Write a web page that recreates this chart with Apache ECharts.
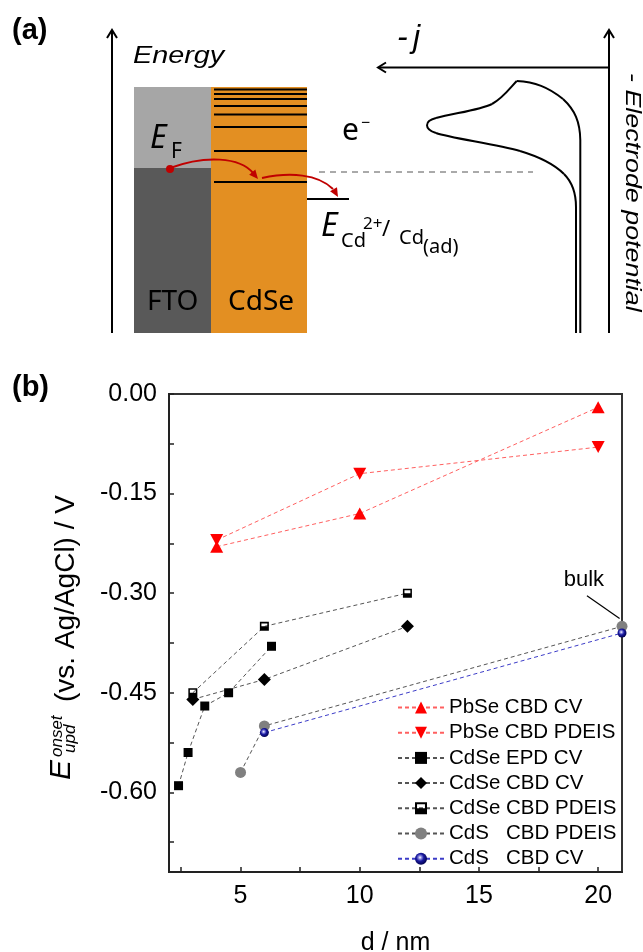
<!DOCTYPE html>
<html>
<head>
<meta charset="utf-8">
<script src="https://cdn.jsdelivr.net/npm/echarts@6/dist/echarts.min.js"></script>
<style>
  html, body { margin: 0; padding: 0; background: #fff; }
  #chart { width: 643px; height: 952px; }
</style>
</head>
<body>
<div id="chart"></div>
<script>
// Onset potential of underpotential deposition vs. crystallite size d (nm)
const pbseCvD = [4, 10, 20];
const pbseCvE = [-0.23, -0.18, -0.02];
const pbsePdeisD = [4, 10, 20];
const pbsePdeisE = [-0.22, -0.12, -0.08];
const cdseEpdCvD = [2.4, 2.8, 3.5, 4.5, 6.3];
const cdseEpdCvE = [-0.59, -0.54, -0.47, -0.45, -0.38];
const cdseCbdCvD = [3, 6, 12];
const cdseCbdCvE = [-0.46, -0.43, -0.35];
const cdseCbdPdeisD = [3, 6, 12];
const cdseCbdPdeisE = [-0.45, -0.35, -0.30];
const cdsCbdPdeisD = [5, 6, 21];
const cdsCbdPdeisE = [-0.57, -0.50, -0.35];
const cdsCbdCvD = [6, 21];
const cdsCbdCvE = [-0.51, -0.36];

const seriesNames = ['PbSe CBD CV', 'PbSe CBD PDEIS', 'CdSe EPD CV', 'CdSe CBD CV',
                     'CdSe CBD PDEIS', 'CdS   CBD PDEIS', 'CdS   CBD CV'];

const xLabelValues = [5, 10, 15, 20];
const xTickValues = [2.5, 5, 7.5, 10, 12.5, 15, 17.5, 20];
const yLabelValues = [0, -0.15, -0.30, -0.45, -0.60];
const yTickValues = [0, -0.075, -0.15, -0.225, -0.30, -0.375, -0.45, -0.525, -0.60, -0.675];

// "bulk" annotation: label anchor and arrow (data coordinates)
const bulkLabelAt = [19.4, -0.28];
const bulkArrowFrom = [19.53, -0.304];
const bulkArrowTo = [20.9, -0.338];

function pairs(xs, ys) { return xs.map((x, i) => [x, ys[i]]); }

const RED = '#ff0000', RED_LINE = '#ff6060', GRAY_LINE = '#555555', BLUE_LINE = '#3c3cc8';
const halfSquare = 'path://M0,0H10V10H0Z M1.7,1.7V5H8.3V1.7Z';
const blueBall = {
  type: 'radial', x: 0.42, y: 0.4, r: 0.62,
  colorStops: [
    { offset: 0, color: '#ffffff' },
    { offset: 0.22, color: '#8a8ae0' },
    { offset: 0.5, color: '#1a1aa0' },
    { offset: 1, color: '#00004a' }
  ]
};

function lineSeries(name, xs, ys, symbol, size, color, lineColor, extra) {
  return Object.assign({
    name, type: 'line', data: pairs(xs, ys),
    symbol, symbolSize: size, showAllSymbol: true,
    itemStyle: { color, opacity: 1 },
    lineStyle: { type: [4, 3], width: 1, color: lineColor },
    emphasis: { disabled: true },
    clip: false
  }, extra || {});
}

const series = [
  lineSeries(seriesNames[0], pbseCvD, pbseCvE, 'triangle', [13, 12], RED, RED_LINE),
  lineSeries(seriesNames[1], pbsePdeisD, pbsePdeisE, 'triangle', [13, 12], RED, RED_LINE, { symbolRotate: 180 }),
  lineSeries(seriesNames[2], cdseEpdCvD, cdseEpdCvE, 'rect', 9, '#000', GRAY_LINE),
  lineSeries(seriesNames[3], cdseCbdCvD, cdseCbdCvE, 'diamond', 13, '#000', GRAY_LINE),
  lineSeries(seriesNames[4], cdseCbdPdeisD, cdseCbdPdeisE, halfSquare, 9, '#000', GRAY_LINE),
  lineSeries(seriesNames[5], cdsCbdPdeisD, cdsCbdPdeisE, 'circle', 11, '#808080', GRAY_LINE, {
    markLine: {
      silent: true, animation: false,
      symbol: ['none', 'arrow'], symbolSize: [0, 11],
      lineStyle: { type: 'solid', color: '#000', width: 1.2 },
      label: { show: false },
      data: [[{ coord: bulkArrowFrom }, { coord: bulkArrowTo }]]
    },
    markPoint: {
      silent: true, animation: false,
      symbol: 'circle', symbolSize: 1, itemStyle: { color: 'rgba(0,0,0,0)' },
      label: { show: true, position: 'inside', formatter: 'bulk', fontSize: 22,
               fontFamily: 'Liberation Sans', color: '#000' },
      data: [{ coord: bulkLabelAt }]
    }
  }),
  lineSeries(seriesNames[6], cdsCbdCvD, cdsCbdCvE, 'circle', 9, blueBall, BLUE_LINE)
];

// ---------- schematic panel (a): band diagram + voltammogram sketch ----------
const DARKRED = '#c00000';
function arrowHead(tipX, tipY, dx, dy, len, half, color) {
  const n = Math.hypot(dx, dy); dx /= n; dy /= n;
  const bx = tipX - dx * len, by = tipY - dy * len;
  return { type: 'polygon', shape: { points: [[tipX, tipY], [bx - dy * half, by + dx * half], [bx + dy * half, by - dx * half]] },
           style: { fill: color } };
}
function chevron(tipX, tipY, dx, dy) {
  const len = 8, half = 5;
  const bx = tipX - dx * len, by = tipY - dy * len;
  return { type: 'polyline', shape: { points: [[bx - dy * half, by + dx * half], [tipX, tipY], [bx + dy * half, by - dx * half]] },
           style: { stroke: '#000', lineWidth: 2, fill: null } };
}
function txt(x, y, text, font, extra) {
  return Object.assign({ type: 'text', x, y, silent: true,
    style: { text, font, fill: '#000', align: 'left', verticalAlign: 'middle' } }, extra || {});
}
function seg(x1, y1, x2, y2) {
  return { type: 'line', shape: { x1, y1, x2, y2 }, style: { stroke: '#000', lineWidth: 2 } };
}
function cubic(p0, c1, c2, p1) {
  return { type: 'bezierCurve',
    shape: { x1: p0[0], y1: p0[1], cpx1: c1[0], cpy1: c1[1], cpx2: c2[0], cpy2: c2[1], x2: p1[0], y2: p1[1] },
    style: { stroke: '#000', lineWidth: 2, fill: null } };
}

const bandLevels = [89.5, 94, 99, 106, 114.5, 127, 151, 182];
const schematic = [
  txt(12, 31, '(a)', 'bold 29px "Liberation Sans"'),
  txt(12, 388, '(b)', 'bold 29px "Liberation Sans"'),
  // energy axis
  seg(112, 333, 112, 31),
  chevron(112, 30, 0, -1),
  txt(133, 56, 'Energy', 'italic 24px "Liberation Sans"', { scaleX: 1.2 }),
  // FTO and CdSe blocks
  { type: 'rect', shape: { x: 134, y: 87, width: 77, height: 81 }, style: { fill: '#a6a6a6' } },
  { type: 'rect', shape: { x: 134, y: 168, width: 77, height: 165 }, style: { fill: '#595959' } },
  { type: 'rect', shape: { x: 211, y: 87, width: 96, height: 246 }, style: { fill: '#e38f22' } }
];
bandLevels.forEach(y => schematic.push(seg(214, y, 307, y)));
schematic.push(
  txt(147, 302, 'FTO', '28px "Noto Sans"'),
  txt(228, 302, 'CdSe', '28px "Noto Sans"'),
  txt(150, 139, 'E', 'italic 32px "Noto Sans"'),
  txt(171, 152, 'F', '21px "Noto Sans"'),
  // electron transfer arrows
  { type: 'bezierCurve', shape: { x1: 170, y1: 168, cpx1: 205, cpy1: 155, x2: 253, y2: 173, cpx2: 240, cpy2: 157 },
    style: { stroke: DARKRED, lineWidth: 2, fill: null } },
  arrowHead(258, 179, 5, 6, 9, 4, DARKRED),
  { type: 'circle', shape: { cx: 170, cy: 169, r: 4 }, style: { fill: DARKRED } },
  { type: 'bezierCurve', shape: { x1: 262, y1: 178, cpx1: 290, cpy1: 172, x2: 333, y2: 189, cpx2: 318, cpy2: 174 },
    style: { stroke: DARKRED, lineWidth: 2, fill: null } },
  arrowHead(338, 197, 4, 7, 9, 4, DARKRED),
  // adsorbate level and potential marker
  seg(307, 199, 349, 199),
  { type: 'line', shape: { x1: 319, y1: 172, x2: 533, y2: 172 }, style: { stroke: '#555', lineWidth: 1, lineDash: [6, 5] } },
  txt(342, 131, 'e', '30px "Noto Sans"'),
  txt(361, 123, '−', '16px "Noto Sans"'),
  txt(321, 227, 'E', 'italic 32px "Noto Sans"'),
  txt(341, 241, 'Cd', '20px "Noto Sans"'),
  txt(363, 224, '2+', '17px "Noto Sans"'),
  txt(382, 230, '/', '22px "Noto Sans"'),
  txt(399, 238, 'Cd', '20px "Noto Sans"'),
  txt(423, 247, '(ad)', '20px "Noto Sans"'),
  // current / potential axes
  seg(609, 67.5, 379, 67.5),
  chevron(378, 67.5, -1, 0),
  seg(609, 333, 609, 31),
  chevron(609, 30, 0, -1),
  txt(397, 38, '-', 'italic 32px "Liberation Sans"'),
  txt(413, 38, 'j', 'italic 32px "Liberation Sans"'),
  txt(632.5, 73, '- Electrode potential', 'italic 22px "Liberation Sans"', { rotation: -Math.PI / 2, scaleX: 1.22 }),
  // voltammogram sketch: cathodic sweep with UPD peak, return sweep
  seg(576, 333, 576, 207),
  cubic([576, 207], [576, 192], [572, 182], [564, 174]),
  cubic([564, 174], [556, 166], [540, 157], [520, 151]),
  cubic([520, 151], [495, 144], [450, 138], [436, 133]),
  cubic([436, 133], [424, 129], [424, 121], [436, 118]),
  cubic([436, 118], [455, 113], [480, 110], [492, 104]),
  cubic([492, 104], [503, 98], [510, 88], [516.7, 81]),
  cubic([516.7, 81], [535, 82], [548, 87], [563, 99]),
  cubic([563, 99], [575, 110], [580, 122], [580.3, 140]),
  seg(580.3, 140, 580.3, 333),
  // y-axis title of panel (b)
  txt(61.3, 780, 'E', 'italic 30px "Liberation Sans"', { rotation: Math.PI / 2 }),
  txt(57, 757, 'onset', 'italic 17px "Liberation Sans"', { rotation: Math.PI / 2 }),
  txt(70.4, 753, 'upd', 'italic 17px "Liberation Sans"', { rotation: Math.PI / 2 }),
  txt(66, 702, '(vs. Ag/AgCl) / V', '28px "Liberation Sans"', { rotation: Math.PI / 2 })
);

const chart = echarts.init(document.getElementById('chart'), null, { renderer: 'canvas' });
chart.setOption({
  animation: false,
  backgroundColor: '#ffffff',
  textStyle: { fontFamily: 'Liberation Sans' },
  grid: { left: 169, top: 394, right: 21, bottom: 80, show: true, borderColor: '#333', borderWidth: 2,
          backgroundColor: '#ffffff', outerBoundsMode: 'none', containLabel: false },
  xAxis: {
    type: 'value', min: 2, max: 21,
    axisLine: { show: true, onZero: false, lineStyle: { color: '#222', width: 2 } },
    axisTick: { show: true, inside: true, length: 5, customValues: xTickValues, lineStyle: { color: '#222', width: 1.5 } },
    axisLabel: { customValues: xLabelValues, fontSize: 25, color: '#000', margin: 12, fontFamily: 'Liberation Sans' },
    splitLine: { show: false },
    name: 'd / nm', nameLocation: 'middle', nameGap: 59,
    nameTextStyle: { fontSize: 25, color: '#000', fontFamily: 'Liberation Sans' }
  },
  yAxis: {
    type: 'value', min: -0.72, max: 0,
    axisLine: { show: true, onZero: false, lineStyle: { color: '#222', width: 2 } },
    axisTick: { show: true, inside: true, length: 5, customValues: yTickValues, lineStyle: { color: '#222', width: 1.5 } },
    axisLabel: { customValues: yLabelValues, fontSize: 25, color: '#000', margin: 12, fontFamily: 'Liberation Sans',
                 formatter: v => v.toFixed(2) },
    splitLine: { show: false }
  },
  legend: {
    orient: 'vertical', left: 397, top: 697, padding: 0,
    itemWidth: 46, itemHeight: 15, itemGap: 4.2,
    selectedMode: false,
    textStyle: { fontSize: 20.5, color: '#000', fontFamily: 'Liberation Sans' },
    data: seriesNames
  },
  series,
  graphic: { elements: schematic }
});
</script>
</body>
</html>
